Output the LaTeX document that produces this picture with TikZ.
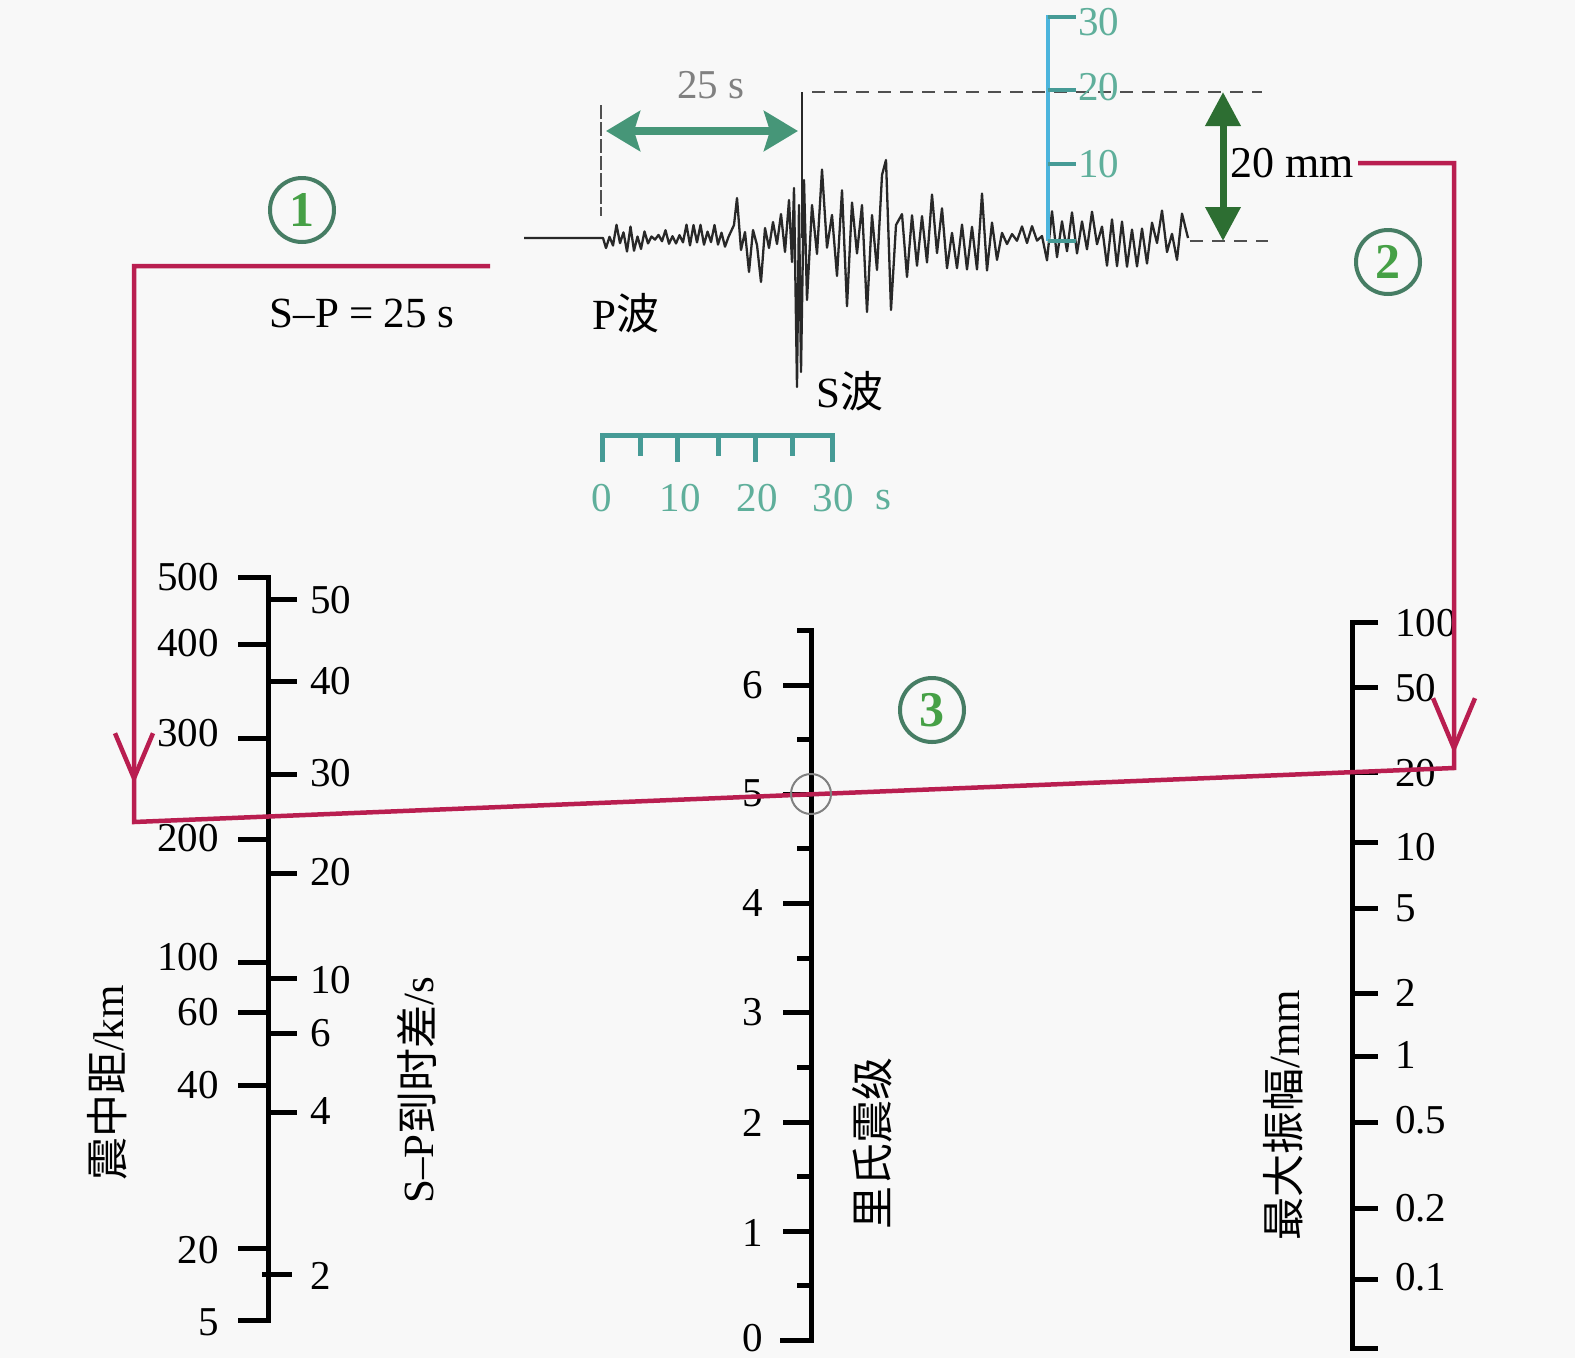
\documentclass[tikz,border=0pt]{standalone}
\usepackage{fontspec}
\setmainfont{Liberation Serif}
\newfontfamily\cjk{Noto Sans CJK SC}
\newfontfamily\sansb{Liberation Sans}
\usetikzlibrary{arrows.meta}
\definecolor{bgc}{RGB}{248,248,248}
\definecolor{redline}{RGB}{185,30,80}
\definecolor{tealscale}{RGB}{70,155,150}
\definecolor{tealtxt}{RGB}{95,175,155}
\definecolor{bluescale}{RGB}{75,180,220}
\definecolor{arrowgreen}{RGB}{70,150,120}
\definecolor{darkgreen}{RGB}{45,110,50}
\definecolor{circline}{RGB}{70,125,100}
\definecolor{circtxt}{RGB}{70,160,70}
\definecolor{dashgray}{RGB}{80,80,80}
\definecolor{tracec}{RGB}{40,40,40}
\begin{document}
\begin{tikzpicture}[x=1pt,y=-1pt,
  lab/.style={font=\fontsize{41}{48}\selectfont, inner sep=0pt},
  cjklab/.style={font=\fontsize{43}{48}\selectfont, inner sep=0pt, rotate=90},
  axisline/.style={line width=5pt, black},
  redpath/.style={line width=4.5pt, redline},
  dashln/.style={dashgray, line width=2.8pt, dash pattern=on 13pt off 9pt},
  circnum/.style={circle, draw=circline, line width=4pt, minimum size=64pt, inner sep=0pt,
     font=\bfseries\fontsize{50}{50}\selectfont, text=circtxt},
  trace/.style={tracec, line width=2.3pt, line join=round}]
\useasboundingbox[fill=bgc] (0,0) rectangle (1575,1358);

% ---------------- seismogram ----------------
\pgfmathsetseed{12}
\draw[trace] (524,238) -- (603,238)
  \foreach \x in {606,609.5,...,730} { -- (\x,{238+13*((2*(mod(round(\x*2),14)>6)-1)*0.55+0.5*rand)}) }
  -- (734,225) -- (737,198) -- (741,250) -- (745,232) -- (749,272) -- (753,230) -- (757,245) -- (761,282) -- (765,228) -- (769,248) -- (773,222) -- (777,244) -- (781,214) -- (785,252)
  -- (789,200) -- (792,262) -- (794,188) -- (797,387) -- (799,205) -- (801,372) -- (804,180) -- (807,300)
  \foreach \x in {812,817,...,857} { -- (\x,{238+(2*(mod(\x-812,10)>4)-1)*70*(0.55+0.45*rand)}) }
  -- (862,205) -- (867,312) -- (872,215) -- (877,270) -- (882,175) -- (886,160) -- (891,310) -- (896,225)
  \foreach \x in {902,907,...,1183} { -- (\x,{238+(2*(mod(\x-902,10)>4)-1)*((\x<1000)*46+(\x>=1000)*(\x<1045)*12+(\x>=1045)*30)*(0.55+0.45*rand)}) }
  -- (1188,238);
\draw[tracec, line width=2.2pt] (802,92) -- (802,238);
\draw[dashgray, line width=1.5pt, dash pattern=on 14pt off 3pt] (601,105) -- (601,216);
\draw[dashln] (812,92) -- (1262,92);
\draw[dashln] (1190,241) -- (1268,241);

% 25 s arrow
\draw[arrowgreen, line width=8pt, {Stealth[length=34pt,width=40pt,inset=6pt]}-{Stealth[length=34pt,width=40pt,inset=6pt]}] (606,131) -- (798,131);
\node[lab, text=gray] (t25) at (711,85) {25 s};

% vertical amplitude scale
\draw[bluescale, line width=4pt] (1048,15) -- (1048,241);
\foreach \y in {17,90,164,241} \draw[tealscale, line width=4pt] (1048,\y) -- (1076,\y);
\node[lab, text=tealtxt, anchor=west] (s30) at (1078,22) {30};
\node[lab, text=tealtxt, anchor=west] (s20) at (1078,87) {20};
\node[lab, text=tealtxt, anchor=west] (s10) at (1078,164) {10};

% 20 mm arrow
\draw[darkgreen, line width=7pt, {Triangle[length=34pt,width=34pt]}-{Triangle[length=34pt,width=34pt]}] (1223,92) -- (1223,241);
\node[lab, anchor=west, font=\fontsize{44}{48}\selectfont] (t20mm) at (1230,163) {20 mm};

% wave labels
\node[lab, anchor=west, font=\fontsize{43}{48}\selectfont] (pw) at (592,313) {P{\cjk 波}};
\node[lab, anchor=west, font=\fontsize{43}{48}\selectfont] (sw) at (816,391) {S{\cjk 波}};
\node[lab, font=\fontsize{43}{48}\selectfont] (sp) at (362,313) {S–P\hspace{10pt}=\hspace{10pt}25 s};

% time scale
\draw[tealscale, line width=5pt] (602,462) -- (602,435) -- (832,435) -- (832,462);
\foreach \x in {677,755} \draw[tealscale, line width=5pt] (\x,435) -- (\x,462);
\foreach \x in {640,718,792} \draw[tealscale, line width=5pt] (\x,435) -- (\x,456);
\node[lab, text=tealtxt] (ts0) at (602,498) {0};
\node[lab, text=tealtxt] (ts10) at (680,498) {10};
\node[lab, text=tealtxt] (ts20) at (757,498) {20};
\node[lab, text=tealtxt] (ts30) at (833,498) {30};
\node[lab, text=tealtxt] (tss) at (883,500) {s};

% circled numbers
\node[circnum] (c1) at (302,210) {1};
\node[circnum] (c2) at (1388,262) {2};
\node[circnum] (c3) at (932,710) {3};

% ---------------- left axis ----------------
\draw[axisline] (238,577) -- (268,577) -- (268,1320) -- (238,1320);
\foreach \y in {644,738,839,962,1012,1085,1248} \draw[axisline] (238,\y) -- (268,\y);
\foreach \y in {599,681,774,873,978,1033,1112} \draw[axisline] (268,\y) -- (297,\y);
\draw[axisline] (262,1274) -- (292,1274);
\foreach \t/\y in {500/577,400/643,300/733,200/838,100/957,60/1012,40/1085,20/1250,5/1322}
  \node[lab, anchor=east] at (219,\y) {\t};
\foreach \t/\y in {50/600,40/681,30/773,20/872,10/980,6/1033,4/1111,2/1276}
  \node[lab, anchor=west] at (310,\y) {\t};
\node[cjklab] (ldist) at (107,1083) {{\cjk 震中距}/km};
\node[cjklab] (lsp) at (417,1090) {S–P{\cjk 到时差}/s};

% ---------------- middle axis ----------------
\draw[axisline] (797,630) -- (811,630) -- (811,1340) -- (780,1340);
\foreach \y in {685,794,903,1012,1122,1231} \draw[axisline] (783,\y) -- (811,\y);
\foreach \y in {739,848,958,1067,1176,1285} \draw[axisline] (797,\y) -- (811,\y);
\foreach \t/\y in {6/685,5/793,4/903,3/1012,2/1123,1/1233,0/1338}
  \node[lab, anchor=east] at (763,\y) {\t};
\node[cjklab] (lmag) at (872,1143) {\cjk 里氏震级};

% ---------------- right axis ----------------
\draw[axisline] (1378,622) -- (1352,622) -- (1352,1348) -- (1378,1348);
\foreach \y in {687,772,842,908,993,1056,1122,1208,1279} \draw[axisline] (1352,\y) -- (1378,\y);
\foreach \t/\y in {100/623,50/688,20/773,10/847,5/908,2/993,1/1055,0.5/1120,0.2/1208,0.1/1277}
  \node[lab, anchor=west] at (1395,\y) {\t};
\node[cjklab] (lamp) at (1283,1115) {{\cjk 最大振幅}/mm};

% ---------------- red construction path ----------------
\coordinate (r1) at (490,266);
\coordinate (r2) at (134,266);
\coordinate (r3) at (134,822);
\coordinate (r4) at (1454,768);
\coordinate (r5) at (1454,163);
\coordinate (r6) at (1358,163);
\coordinate (m5) at (811,794);
\draw[redpath] (r1) -- (r2) -- (r3) -- (r4) -- (r5) -- (r6);
\draw[redpath, -{Straight Barb[length=45pt,width=38pt]}] (134,700) -- (134,784);
\draw[redpath, -{Straight Barb[length=50pt,width=42pt]}] (1454,660) -- (1454,754);
\draw[gray, line width=2pt] (m5) circle[radius=20];
\end{tikzpicture}
\end{document}
